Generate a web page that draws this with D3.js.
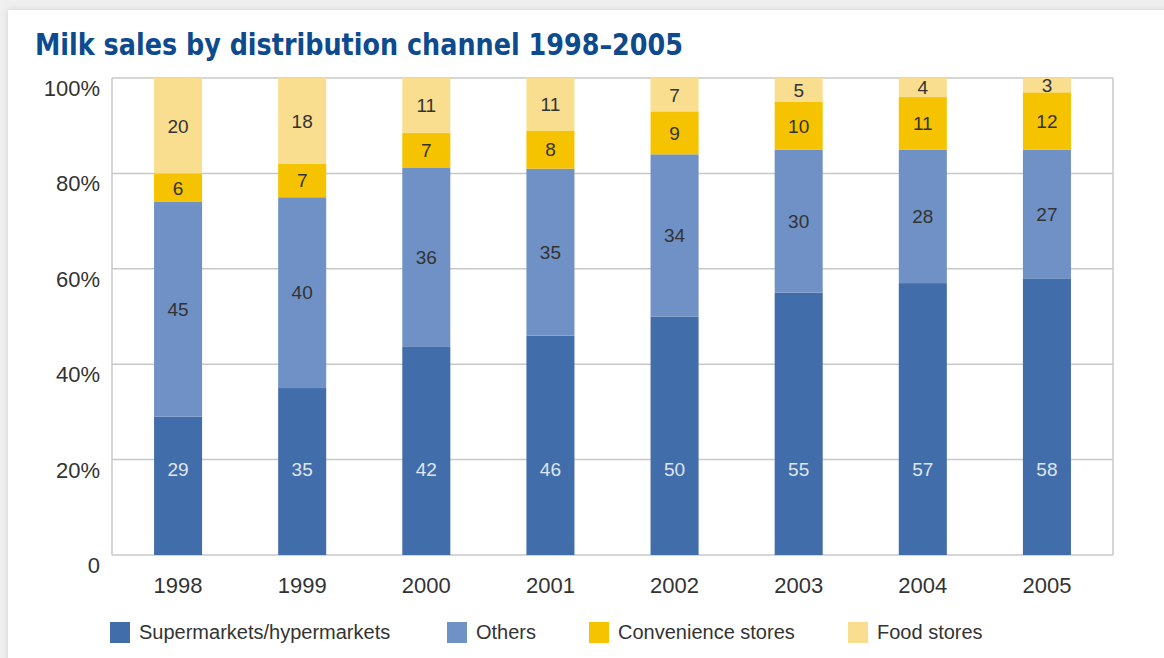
<!DOCTYPE html>
<html><head><meta charset="utf-8">
<script src="https://cdn.jsdelivr.net/npm/d3@7"></script>
<style>
html,body{margin:0;padding:0;background:#efefef;}
svg{display:block;}
</style></head>
<body>
<svg id="chart" width="1164" height="658"></svg>
<script>
const years = ["1998","1999","2000","2001","2002","2003","2004","2005"];
const supermarkets = [29,35,42,46,50,55,57,58];
const others = [45,40,36,35,34,30,28,27];
const convenience = [6,7,7,8,9,10,11,12];
const foodStores = [20,18,11,11,7,5,4,3];
const seriesNames = ["Supermarkets/hypermarkets","Others","Convenience stores","Food stores"];
const yTicks = [0,0.2,0.4,0.6,0.8,1];
const yTickLabels = ["0","20%","40%","60%","80%","100%"];
const chartTitle = "Milk sales by distribution channel 1998–2005";

(function(){
const colors = ["#426dab","#6f91c5","#f6c300","#f9de8f"];
const labelColors = ["#dfe6f1","#333","#333","#333"];

const keys = ["s","o","c","f"];
const table = years.map((y,i)=>({year:y,s:supermarkets[i],o:others[i],c:convenience[i],f:foodStores[i]}));
const stack = d3.stack().keys(keys).offset(d3.stackOffsetExpand);
const stacked = stack(table);

const svg = d3.select("#chart");
svg.append("rect").attr("x",8).attr("y",10).attr("width",1164).attr("height",660).attr("fill","#fff")
  .style("filter","drop-shadow(0 0 3px rgba(0,0,0,0.12))");

svg.append("text").attr("x",35).attr("y",55)
  .attr("font-family","'Liberation Sans Narrow','DejaVu Sans Condensed',Arial,sans-serif")
  .attr("font-weight","bold").attr("font-size",31).attr("fill","#0d4a8e")
  .attr("textLength",648).attr("lengthAdjust","spacingAndGlyphs")
  .text(chartTitle);

const pL=112,pR=1113,pT=78,pB=555;
const x = d3.scaleBand().domain(years).range([116,1109]).paddingInner(0.613).paddingOuter(0.3065);
const y = d3.scaleLinear().domain([0,1]).range([pB,pT]);

const font = "'Liberation Sans',Arial,sans-serif";

const g = svg.append("g");
g.selectAll("line.grid").data(yTicks).join("line")
  .attr("x1",pL).attr("x2",pR).attr("y1",d=>y(d)).attr("y2",d=>y(d))
  .attr("stroke","#c8c8c8").attr("stroke-width",1.5);
g.append("line").attr("x1",pL).attr("x2",pL).attr("y1",pT).attr("y2",pB).attr("stroke","#c8c8c8").attr("stroke-width",1.5);
g.append("line").attr("x1",pR).attr("x2",pR).attr("y1",pT).attr("y2",pB).attr("stroke","#c8c8c8").attr("stroke-width",1.5);

svg.selectAll("text.ytick").data(yTicks).join("text").attr("class","ytick")
  .attr("x",100).attr("y",d=>y(d)+18).attr("text-anchor","end")
  .attr("font-family",font).attr("font-size",22).attr("fill","#333")
  .text((d,i)=>yTickLabels[i]);

const layers = svg.selectAll("g.layer").data(stacked).join("g").attr("class","layer").attr("fill",(d,i)=>colors[i]);
layers.selectAll("rect").data(d=>d).join("rect")
  .attr("x",d=>x(d.data.year)).attr("width",x.bandwidth())
  .attr("y",d=>y(d[1])).attr("height",d=>y(d[0])-y(d[1]));

stacked.forEach((layer,li)=>{
  svg.selectAll("text.lab"+li).data(layer).join("text").attr("class","lab"+li)
    .attr("x",d=>x(d.data.year)+x.bandwidth()/2)
    .attr("y",d=> li===0 ? y(0.18) : y((d[0]+d[1])/2))
    .attr("dy","0.36em").attr("text-anchor","middle")
    .attr("font-family",font).attr("font-size",19).attr("fill",labelColors[li])
    .text(d=>d.data[keys[li]]);
});

svg.selectAll("text.xtick").data(years).join("text").attr("class","xtick")
  .attr("x",d=>x(d)+x.bandwidth()/2).attr("y",593).attr("text-anchor","middle")
  .attr("font-family",font).attr("font-size",22).attr("fill","#333").text(d=>d);

const legX = [110,447,589,848];
const leg = svg.selectAll("g.leg").data(seriesNames).join("g").attr("class","leg")
  .attr("transform",(d,i)=>`translate(${legX[i]},622)`);
leg.append("rect").attr("width",20).attr("height",21).attr("fill",(d,i)=>colors[i]);
leg.append("text").attr("x",29).attr("y",17).attr("font-family",font).attr("font-size",20)
  .attr("fill","#333").text(d=>d);
})();
</script>
</body></html>
